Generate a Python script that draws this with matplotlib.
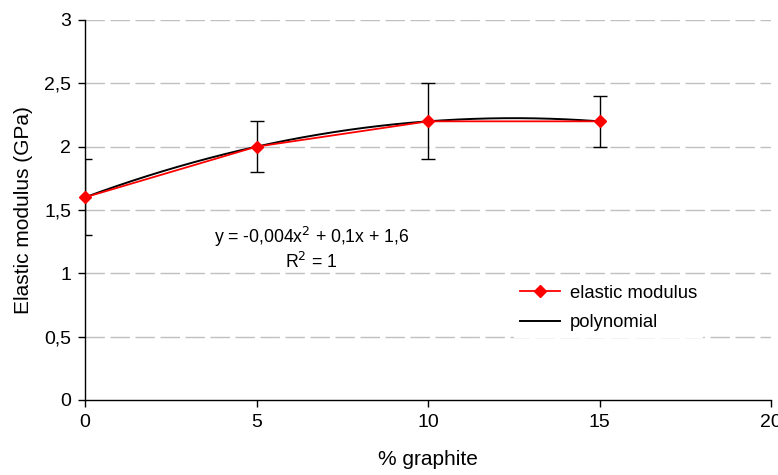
import numpy as np
import matplotlib
matplotlib.use("Agg")
import matplotlib.pyplot as plt
from matplotlib.ticker import FuncFormatter
from matplotlib.lines import Line2D

plt.rcParams['font.family'] = ['Liberation Sans', 'DejaVu Sans']

graphite = [0, 5, 10, 15]
modulus = [1.6, 2.0, 2.2, 2.2]
errors = [0.3, 0.2, 0.3, 0.2]
xticks = [0, 5, 10, 15, 20]
yticks = [0, 0.5, 1, 1.5, 2, 2.5, 3]

fig = plt.figure(figsize=(7.78, 4.75), dpi=100)
ax = fig.add_axes([85/778, 1-400/475, 686/778, 380/475])

for y in yticks[1:]:
    ax.axhline(y, color='#c0c0c0', lw=1, dashes=(14, 4), zorder=0)

# polynomial trendline fitted to the data
coef = np.polyfit(graphite, modulus, 2)
xs = np.linspace(min(graphite), max(graphite), 200)
ax.plot(xs, np.polyval(coef, xs), color='black', lw=1.4, zorder=3)

ax.errorbar(graphite, modulus, yerr=errors, fmt='none', ecolor='black',
            elinewidth=1, capsize=5, capthick=1, zorder=2)
ax.plot(graphite, modulus, color='#ff0000', lw=1.3, marker='D',
        markersize=6, markerfacecolor='#ff0000', markeredgecolor='#ff0000', zorder=4, clip_on=False)

ax.set_xlim(0, 20)
ax.set_ylim(0, 3)
ax.set_xticks(xticks)
ax.set_yticks(yticks)
fmt = lambda v, p: ('%g' % v).replace('.', ',')
ax.yaxis.set_major_formatter(FuncFormatter(fmt))
ax.tick_params(direction='out', length=5, width=1, labelsize=14, colors='black', pad=5)
for s in ['top', 'right']:
    ax.spines[s].set_visible(False)
for s in ['left', 'bottom']:
    ax.spines[s].set_linewidth(1)

ax.set_xlabel('% graphite', fontsize=15, labelpad=14)
ax.set_ylabel('Elastic modulus (GPa)', fontsize=15, labelpad=8)

ax.text(6.6, 1.285, 'y = -0,004x$^2$ + 0,1x + 1,6', ha='center', va='center', fontsize=12.7)
ax.text(6.6, 1.09, 'R$^2$ = 1', ha='center', va='center', fontsize=12.7)

handles = [Line2D([], [], color='#ff0000', lw=1.3, marker='D', markersize=6),
           Line2D([], [], color='black', lw=1.4)]
leg = ax.legend(handles, ['elastic modulus', 'polynomial'], loc='center left',
                bbox_to_anchor=(505/778, 1-308/475), bbox_transform=fig.transFigure,
                frameon=True, fancybox=False, edgecolor='white', facecolor='white',
                framealpha=1, fontsize=13.3, handlelength=2.2, handletextpad=0.5,
                labelspacing=0.7, borderpad=0.3)

fig.savefig('out.png', dpi=100)
